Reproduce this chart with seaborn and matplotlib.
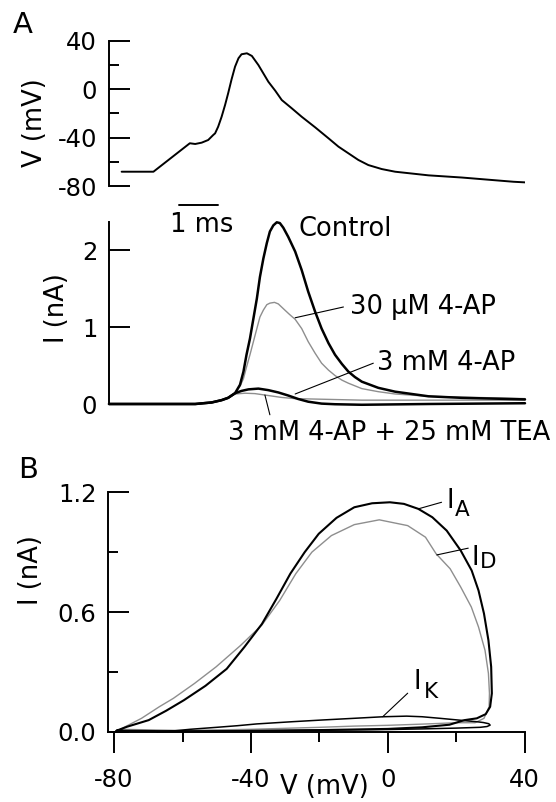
import numpy as np
import pandas as pd
import matplotlib
matplotlib.use("Agg")
import matplotlib.pyplot as plt
from matplotlib.ticker import FixedLocator
import seaborn as sns

# ---------------- data ----------------
# Panel A, top: action potential waveform (time in ms, voltage in mV)
ap_t = [0.33, 1.16, 2.11, 2.25, 2.42, 2.59, 2.72, 2.77, 2.85, 2.94, 3.03, 3.11, 3.20,
        3.29, 3.38, 3.46, 3.60, 3.73, 3.90, 4.16, 4.34, 4.51, 4.77, 5.03, 5.38, 5.73,
        5.99, 6.25, 6.51, 6.77, 7.12, 7.47, 8.34, 9.21, 10.56, 10.86]
ap_v = [-68.2, -68.2, -44.7, -45.3, -44.2, -42.0, -37.9, -36.5, -31.0, -22.8, -13.1,
        -3.5, 8.1, 18.5, 25.5, 28.8, 29.6, 27.4, 19.9, 6.1, -1.3, -9.0, -15.8, -22.8,
        -31.5, -40.6, -47.5, -53.0, -58.5, -62.7, -66.0, -68.2, -71.2, -73.0, -76.5, -77.0]

# Panel A, bottom: AP-clamp currents (nA)
ctl_t = [0.0, 2.25, 2.68, 2.94, 3.11, 3.29, 3.42, 3.51, 3.59, 3.68, 3.77, 3.86, 3.94,
         4.03, 4.12, 4.20, 4.29, 4.38, 4.46, 4.55, 4.68, 4.86, 5.03, 5.20, 5.38, 5.55,
         5.73, 5.90, 6.08, 6.25, 6.42, 6.60, 7.03, 7.47, 8.34, 9.21, 10.86]
ctl_i = [0.0, 0.0, 0.02, 0.05, 0.08, 0.14, 0.25, 0.42, 0.64, 0.85, 1.11, 1.37, 1.65,
         1.89, 2.09, 2.24, 2.32, 2.36, 2.35, 2.29, 2.17, 1.98, 1.74, 1.46, 1.20, 0.98,
         0.79, 0.64, 0.52, 0.42, 0.35, 0.29, 0.21, 0.16, 0.10, 0.08, 0.06]

ap30_t = [0.0, 2.25, 2.68, 2.94, 3.11, 3.29, 3.42, 3.51, 3.59, 3.68, 3.77, 3.86, 3.94,
          4.03, 4.12, 4.20, 4.32, 4.42, 4.59, 4.72, 4.86, 5.03, 5.20, 5.38, 5.55, 5.73,
          5.90, 6.08, 6.25, 6.60, 7.03, 7.47, 8.34, 10.86]
ap30_i = [0.0, 0.0, 0.02, 0.05, 0.08, 0.14, 0.23, 0.33, 0.48, 0.64, 0.81, 0.98, 1.13,
          1.22, 1.29, 1.31, 1.32, 1.30, 1.22, 1.16, 1.10, 0.98, 0.81, 0.66, 0.53, 0.44,
          0.37, 0.31, 0.27, 0.20, 0.16, 0.13, 0.10, 0.07]

ap3_t = [0.0, 2.25, 2.68, 2.94, 3.11, 3.29, 3.46, 3.64, 3.90, 4.16, 4.42, 4.68, 4.94,
         5.20, 5.55, 5.90, 6.60, 8.34, 10.86]
ap3_i = [0.0, 0.0, 0.02, 0.05, 0.08, 0.14, 0.17, 0.19, 0.20, 0.18, 0.15, 0.11, 0.065,
         0.03, 0.005, -0.003, -0.01, 0.0, 0.01]

tea_t = [0.0, 2.25, 2.68, 2.94, 3.11, 3.29, 3.55, 3.81, 4.16, 4.51, 4.86, 5.73, 6.60,
         8.34, 10.86]
tea_i = [0.0, 0.0, 0.02, 0.05, 0.08, 0.13, 0.14, 0.135, 0.11, 0.085, 0.07, 0.06, 0.05,
         0.05, 0.05]

# Panel B: I-V trajectories (mV, nA)
ia_v = [-79.3, -76.2, -69.9, -64.8, -59.6, -53.3, -47.1, -41.9, -36.8, -32.6, -28.5,
        -24.3, -20.2, -15.0, -9.8, -4.6, 0.6, 4.7, 8.9, 13.0, 17.2, 21.3, 24.5, 26.5,
        28.1, 29.4, 30.2, 30.4, 29.9, 28.6, 26.0, 22.4, 18.0, 10.0, 0.0, -20.0, -40.0,
        -60.0, -79.3]
ia_i = [0.005, 0.025, 0.058, 0.105, 0.158, 0.230, 0.315, 0.425, 0.540, 0.665, 0.792,
        0.900, 0.992, 1.072, 1.125, 1.145, 1.150, 1.142, 1.117, 1.075, 1.008, 0.908,
        0.808, 0.708, 0.592, 0.458, 0.325, 0.192, 0.125, 0.088, 0.067, 0.058, 0.035,
        0.022, 0.014, 0.008, 0.004, 0.002, 0.005]

id_v = [-78.2, -72.0, -66.8, -62.7, -56.5, -50.2, -43.0, -36.8, -31.6, -26.9, -22.2,
        -16.5, -9.8, -2.5, 5.8, 11.0, 14.1, 18.2, 21.3, 24.4, 26.5, 28.4, 29.4, 29.7,
        29.6, 28.1, 25.5, 20.0, 10.0, 0.0, -10.0, -20.0, -40.0, -60.0, -78.2]
id_i = [0.012, 0.067, 0.125, 0.167, 0.242, 0.325, 0.433, 0.535, 0.658, 0.792, 0.900,
        0.983, 1.038, 1.062, 1.033, 0.975, 0.892, 0.817, 0.725, 0.625, 0.525, 0.408,
        0.292, 0.192, 0.125, 0.067, 0.045, 0.045, 0.038, 0.032, 0.028, 0.022, 0.012,
        0.006, 0.012]

ik_v = [-67.5, -62.0, -57.8, -50.0, -44.0, -38.3, -28.0, -18.8, -10.0, -1.3, 5.5, 10.0,
        15.3, 22.1, 26.0, 27.9, 29.5, 29.9, 29.0, 27.0, 20.0, 10.0, 0.0, -20.0, -40.0,
        -57.8, -67.5]
ik_i = [0.0, 0.005, 0.012, 0.022, 0.030, 0.039, 0.050, 0.059, 0.067, 0.075, 0.078,
        0.075, 0.067, 0.056, 0.050, 0.046, 0.040, 0.033, 0.026, 0.022, 0.018, 0.014,
        0.011, 0.008, 0.005, 0.002, 0.0]

v_ticks = [-80, -40, 0, 40]
v_minor = [-60, -20, 20]
i_ticks_a = [0, 1, 2]
i_ticks_b = [0.0, 0.6, 1.2]
i_labels_b = ["0.0", "0.6", "1.2"]
i_minor_b = [0.3, 0.9]
vb_ticks = [-80, -40, 0, 40]
vb_minor = [-60, -20, 20]

# ---------------- style ----------------
sns.set_theme(style="white")
TICK_FS = 17.5
TXT_FS = 18.5
plt.rcParams.update({
    "font.family": ["DejaVu Sans"],
    "text.color": "black",
    "axes.labelcolor": "black",
    "xtick.color": "black",
    "ytick.color": "black",
    "xtick.labelsize": TICK_FS,
    "ytick.labelsize": TICK_FS,
    "axes.unicode_minus": False,
})
GRAY = "#8e8e8e"

W, H = 556, 802
fig = plt.figure(figsize=(W / 100, H / 100), dpi=100)


def frac(left, top, right, bottom):
    return [left / W, 1 - bottom / H, (right - left) / W, (bottom - top) / H]


def style_left(ax):
    for s in ("top", "right", "bottom"):
        ax.spines[s].set_visible(False)
    ax.spines["left"].set_linewidth(1.4)
    ax.spines["left"].set_color("black")
    ax.tick_params(axis="y", which="major", direction="in", length=15, width=1.4,
                   pad=8.5, labelsize=TICK_FS, colors="black", left=True)
    ax.tick_params(axis="y", which="minor", direction="in", length=7.5, width=1.4, left=True)
    ax.set_xticks([])
    ax.set_facecolor("none")


# ---------------- Panel A top: voltage ----------------
ax1 = fig.add_axes(frac(109, 40.7, 525, 186))
df_ap = pd.DataFrame({"t": ap_t, "V": ap_v})
sns.lineplot(data=df_ap, x="t", y="V", ax=ax1, color="black", lw=1.4,
             sort=False, estimator=None)
ax1.set_xlim(0, 10.86)
ax1.set_ylim(-80, 40)
style_left(ax1)
ax1.yaxis.set_major_locator(FixedLocator(v_ticks))
ax1.yaxis.set_minor_locator(FixedLocator(v_minor))
ax1.set_xlabel("")
ax1.set_ylabel("V (mV)", fontsize=TXT_FS)
ax1.yaxis.label.set_va("center")
ax1.yaxis.set_label_coords(-0.178, 0.434)

# ---------------- Panel A bottom: currents ----------------
ax2 = fig.add_axes(frac(109, 222.3, 525, 411.7))
traces = [
    ("30 µM 4-AP", ap30_t, ap30_i, GRAY, 1.0),
    ("3 mM 4-AP + 25 mM TEA", tea_t, tea_i, GRAY, 1.0),
    ("Control", ctl_t, ctl_i, "black", 1.8),
    ("3 mM 4-AP", ap3_t, ap3_i, "black", 1.8),
]
for name, tt, ii, col, lw in traces:
    sns.lineplot(x=tt, y=ii, ax=ax2, color=col, lw=lw, sort=False, estimator=None,
                 clip_on=False)
ax2.set_xlim(0, 10.86)
ax2.set_ylim(-0.1, 2.36)
style_left(ax2)
ax2.spines["left"].set_bounds(0, 2.36)
ax2.yaxis.set_major_locator(FixedLocator(i_ticks_a))
ax2.set_ylabel("I (nA)", fontsize=TXT_FS)
ax2.yaxis.label.set_va("center")
ax2.yaxis.set_label_coords(-0.124, 0.548)

# time scale bar (1 ms)
ax2.plot([1.84, 2.84], [2.59, 2.59], color="black", lw=1.4, clip_on=False)
ax2.text(2.43, 2.32, "1 ms", fontsize=TXT_FS, ha="center", va="center")

ax2.text(4.96, 2.27, "Control", fontsize=TXT_FS, ha="left", va="center")
ax2.plot([4.86, 6.12], [1.12, 1.26], color="black", lw=0.8)
ax2.text(6.29, 1.26, "30 µM 4-AP", fontsize=TXT_FS, ha="left", va="center")
ax2.plot([4.86, 6.90], [0.13, 0.53], color="black", lw=0.8)
ax2.text(6.99, 0.53, "3 mM 4-AP", fontsize=TXT_FS, ha="left", va="center")
ax2.plot([4.07, 4.20], [0.117, -0.14], color="black", lw=0.8, clip_on=False)
ax2.text(3.11, -0.377, "3 mM 4-AP + 25 mM TEA", fontsize=TXT_FS, ha="left", va="center")

# ---------------- Panel B: I-V loops ----------------
ax3 = fig.add_axes(frac(108.3, 492.3, 524.7, 731.7))
loops = [
    (id_v, id_i, GRAY, 1.0),
    (ik_v, ik_i, "black", 1.1),
    (ia_v, ia_i, "black", 1.5),
]
for vv, ii, col, lw in loops:
    sns.lineplot(x=vv, y=ii, ax=ax3, color=col, lw=lw, sort=False, estimator=None,
                 clip_on=False)
ax3.set_xlim(-81.7, 40)
ax3.set_ylim(0, 1.2)
for s in ("top", "right"):
    ax3.spines[s].set_visible(False)
for s in ("left", "bottom"):
    ax3.spines[s].set_linewidth(1.4)
    ax3.spines[s].set_color("black")
ax3.set_facecolor("none")
ax3.yaxis.set_major_locator(FixedLocator(i_ticks_b))
ax3.set_yticklabels(i_labels_b)
ax3.yaxis.set_minor_locator(FixedLocator(i_minor_b))
ax3.xaxis.set_major_locator(FixedLocator(vb_ticks))
ax3.xaxis.set_minor_locator(FixedLocator(vb_minor))
ax3.tick_params(axis="y", which="major", direction="in", length=15, width=1.4,
                pad=8.5, labelsize=TICK_FS, colors="black", left=True)
ax3.tick_params(axis="y", which="minor", direction="in", length=7.5, width=1.4, left=True)
ax3.tick_params(axis="x", which="major", direction="out", length=15, width=1.4,
                pad=11, labelsize=TICK_FS, colors="black", bottom=True)
ax3.tick_params(axis="x", which="minor", direction="out", length=7.5, width=1.4, bottom=True)
ax3.set_xlabel("V (mV)", fontsize=TXT_FS)
ax3.xaxis.label.set_va("center")
ax3.xaxis.set_label_coords(0.52, -0.232)
ax3.set_ylabel("I (nA)", fontsize=TXT_FS)
ax3.yaxis.label.set_va("center")
ax3.yaxis.set_label_coords(-0.186, 0.675)

# curve labels with leader lines
ax3.plot([8.9, 15.7], [1.117, 1.15], color="black", lw=0.8)
ax3.text(18.3, 1.156, "I", fontsize=TXT_FS, ha="center", va="center")
ax3.text(21.8, 1.111, "A", fontsize=15.5, ha="center", va="center")
ax3.plot([14.3, 23.5], [0.886, 0.92], color="black", lw=0.8)
ax3.text(25.6, 0.871, "I", fontsize=TXT_FS, ha="center", va="center")
ax3.text(29.3, 0.849, "D", fontsize=15.5, ha="center", va="center")
ax3.plot([-1.5, 5.8], [0.075, 0.193], color="black", lw=0.8)
ax3.text(8.5, 0.247, "I", fontsize=TXT_FS, ha="center", va="center")
ax3.text(12.5, 0.200, "K", fontsize=15.5, ha="center", va="center")

# panel letters
fig.text(23 / W, 1 - 25 / H, "A", fontsize=21, ha="center", va="center")
fig.text(28 / W, 1 - 470 / H, "B", fontsize=21, ha="center", va="center")

fig.savefig("out.png", dpi=100, facecolor="white")
